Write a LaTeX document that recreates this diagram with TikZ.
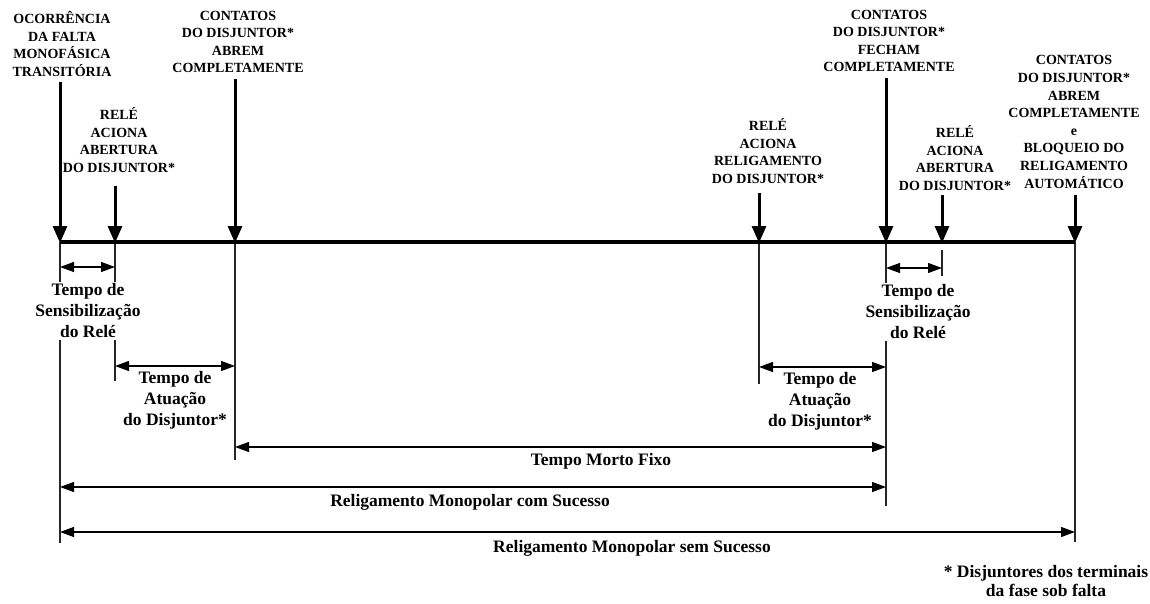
\documentclass[tikz,border=0pt]{standalone}
\usepackage{fontspec}
\setmainfont{Liberation Serif}
\usetikzlibrary{arrows.meta}
\begin{document}
\begin{tikzpicture}[x=1pt,y=-1pt,
  evt/.style={line width=3pt,-{Triangle[length=17pt,width=14pt]}},
  dim/.style={line width=1.2pt,{Triangle[length=14pt,width=10pt]}-{Triangle[length=14pt,width=10pt]}},
  refline/.style={line width=1.1pt,draw=black!85},
  mainline/.style={line width=3.5pt},
  captext/.style={align=center,inner sep=0pt,font=\fontsize{14}{17.6}\selectfont\bfseries},
  lab/.style={align=center,inner sep=1.5pt,fill=white,font=\fontsize{17.5}{21}\selectfont\bfseries},
]
\useasboundingbox[fill=white] (0,0) rectangle (1150,604);

% event points on the time line
\coordinate (tA) at (60,242);
\coordinate (tB) at (115,242);
\coordinate (tC) at (235,242);
\coordinate (tD) at (759,242);
\coordinate (tE) at (886,242);
\coordinate (tF) at (942,242);
\coordinate (tG) at (1075,242);

% arrow starts
\coordinate (sA) at (60,82);
\coordinate (sB) at (115,186);
\coordinate (sC) at (235,79);
\coordinate (sD) at (759,193);
\coordinate (sE) at (886,78);
\coordinate (sF) at (942,195);
\coordinate (sG) at (1075,195);

% reference line ends
\coordinate (eA) at (60,543);
\coordinate (eB) at (115,381);
\coordinate (eC) at (235,460);
\coordinate (eD) at (759,384);
\coordinate (eE) at (886,506);
\coordinate (fF) at (942,250);
\coordinate (eF) at (942,276);
\coordinate (eG) at (1075,542);

% thin reference lines
\draw[refline] (tA) -- (eA);
\draw[refline] (tB) -- (eB);
\draw[refline] (tC) -- (eC);
\draw[refline] (tD) -- (eD);
\draw[refline] (tE) -- (eE);
\draw[refline] (fF) -- (eF);
\draw[refline] (tG) -- (eG);

% main time line
\draw[mainline] (tA) -- (tG);

% top captions
\node[captext] (nA) at (62,44) {OCORRÊNCIA\\DA FALTA\\MONOFÁSICA\\TRANSITÓRIA};
\node[captext] (nB) at (119,140) {RELÉ\\ACIONA\\ABERTURA\\DO DISJUNTOR*};
\node[captext] (nC) at (238,42) {CONTATOS\\DO DISJUNTOR*\\ABREM\\COMPLETAMENTE};
\node[captext] (nD) at (768,151) {RELÉ\\ACIONA\\RELIGAMENTO\\DO DISJUNTOR*};
\node[captext] (nE) at (889,41) {CONTATOS\\DO DISJUNTOR*\\FECHAM\\COMPLETAMENTE};
\node[captext] (nF) at (955,158) {RELÉ\\ACIONA\\ABERTURA\\DO DISJUNTOR*};
\node[captext] (nG) at (1074,122) {CONTATOS\\DO DISJUNTOR*\\ABREM\\COMPLETAMENTE\\e\\BLOQUEIO DO\\RELIGAMENTO\\AUTOMÁTICO};

% event arrows
\draw[evt] (sA) -- ([yshift=-1pt]tA);
\draw[evt] (sB) -- ([yshift=-1pt]tB);
\draw[evt] (sC) -- ([yshift=-1pt]tC);
\draw[evt] (sD) -- ([yshift=-1pt]tD);
\draw[evt] (sE) -- ([yshift=-1pt]tE);
\draw[evt] (sF) -- ([yshift=-1pt]tF);
\draw[evt] (sG) -- ([yshift=-1pt]tG);

% lower labels
\node[lab] (l1) at (88,311) {Tempo de\\Sensibilização\\do Relé};
\node[lab] (l2) at (175,400) {Tempo de\\Atuação\\do Disjuntor*};
\node[lab] (r1) at (918,312) {Tempo de\\Sensibilização\\do Relé};
\node[lab] (r2) at (820,401) {Tempo de\\Atuação\\do Disjuntor*};
\node[lab] (mf) at (601,461) {Tempo Morto Fixo};
\node[lab] (cs) at (470,502) {Religamento Monopolar com Sucesso};
\node[lab] (ss) at (632,548) {Religamento Monopolar sem Sucesso};
\node[lab,font=\fontsize{17.5}{19}\selectfont\bfseries] (fn) at (1046,581) {* Disjuntores dos terminais\\da fase sob falta};

% dimension arrows
\draw[dim] (tA |- 0,267) -- (tB |- 0,267);
\draw[dim] (tB |- 0,366) -- (tC |- 0,366);
\draw[dim] (tD |- 0,367) -- (tE |- 0,367);
\draw[dim] (tE |- 0,268) -- (tF |- 0,268);
\draw[dim] (tC |- 0,447) -- (tE |- 0,447);
\draw[dim] (tA |- 0,487) -- (tE |- 0,487);
\draw[dim] (tA |- 0,532) -- (tG |- 0,532);
\end{tikzpicture}
\end{document}
